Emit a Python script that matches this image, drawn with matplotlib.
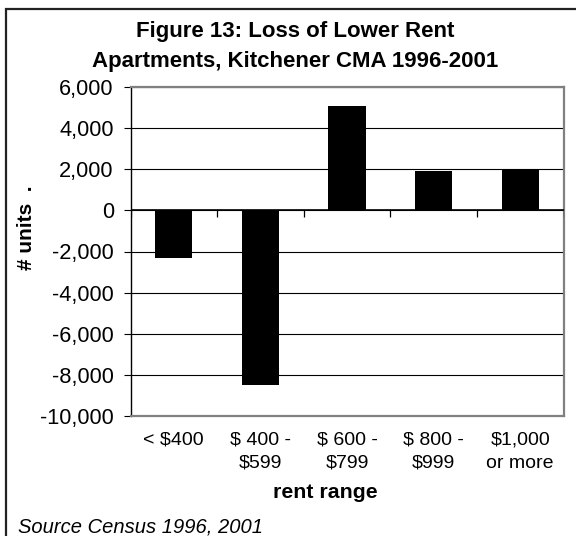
import matplotlib.pyplot as plt
from matplotlib.patches import Rectangle

plt.rcParams["font.family"] = ["Liberation Sans", "DejaVu Sans"]

categories = ["< $400", "$ 400 -\n$599", "$ 600 -\n$799", "$ 800 -\n$999", "$1,000\nor more"]
units = [-2300, -8500, 5100, 1900, 2000]
yticks = [-10000, -8000, -6000, -4000, -2000, 0, 2000, 4000, 6000]
title_lines = ["Figure 13: Loss of Lower Rent", "Apartments, Kitchener CMA 1996-2001"]

W, H = 576, 536
fig = plt.figure(figsize=(W / 100, H / 100), dpi=100)
ax = fig.add_axes([130.5 / W, 1 - 416 / H, 433 / W, 329 / H])

x = list(range(len(categories)))
ax.bar(x, units, width=0.43, color="black", zorder=3)

ax.set_xlim(-0.5, len(categories) - 0.5)
ax.set_ylim(-10000, 6000)
ax.set_yticks(yticks)
ax.set_yticklabels([f"{v:,}" for v in yticks], fontsize=15.7)
ax.yaxis.grid(True, color="black", linewidth=0.8, zorder=1)
ax.tick_params(axis="y", direction="out", length=5, width=0.8, pad=7)

ax.set_xticks(x)
ax.set_xticklabels(categories, fontsize=14, linespacing=1.5, va="top")
ax.tick_params(axis="x", length=0, pad=11)

# zero axis with category tick marks
ax.axhline(0, color="black", linewidth=1.2, zorder=4)
bounds = [i - 0.5 for i in range(len(categories) + 1)]
ax.vlines(bounds, -300, 0, color="black", linewidth=0.9, zorder=4)

for s in ["top", "right", "bottom"]:
    ax.spines[s].set_color("#808080")
    ax.spines[s].set_linewidth(1.6)
ax.spines["left"].set_color("black")
ax.spines["left"].set_linewidth(1.0)

fig.text(325 / W, 1 - 498 / H, "rent range", fontsize=15.3, fontweight="bold",
         ha="center", va="baseline")
fig.text(26 / W, 1 - 228 / H, "# units  .", rotation=90, fontsize=15,
         fontweight="bold", ha="center", va="center")
fig.text(295 / W, 1 - 37 / H, title_lines[0], fontsize=16, fontweight="bold",
         ha="center", va="baseline")
fig.text(295 / W, 1 - 67 / H, title_lines[1], fontsize=16, fontweight="bold",
         ha="center", va="baseline")
fig.text(18 / W, 1 - 532.5 / H, "Source Census 1996, 2001", fontsize=14.5,
         style="italic", ha="left", va="baseline")

fig.patches.append(Rectangle((6 / W, -0.05), 1.0, 1.05 - 9 / H,
                             transform=fig.transFigure, fill=False,
                             edgecolor="#222222", linewidth=1.6))

fig.savefig("out.png", dpi=100)
